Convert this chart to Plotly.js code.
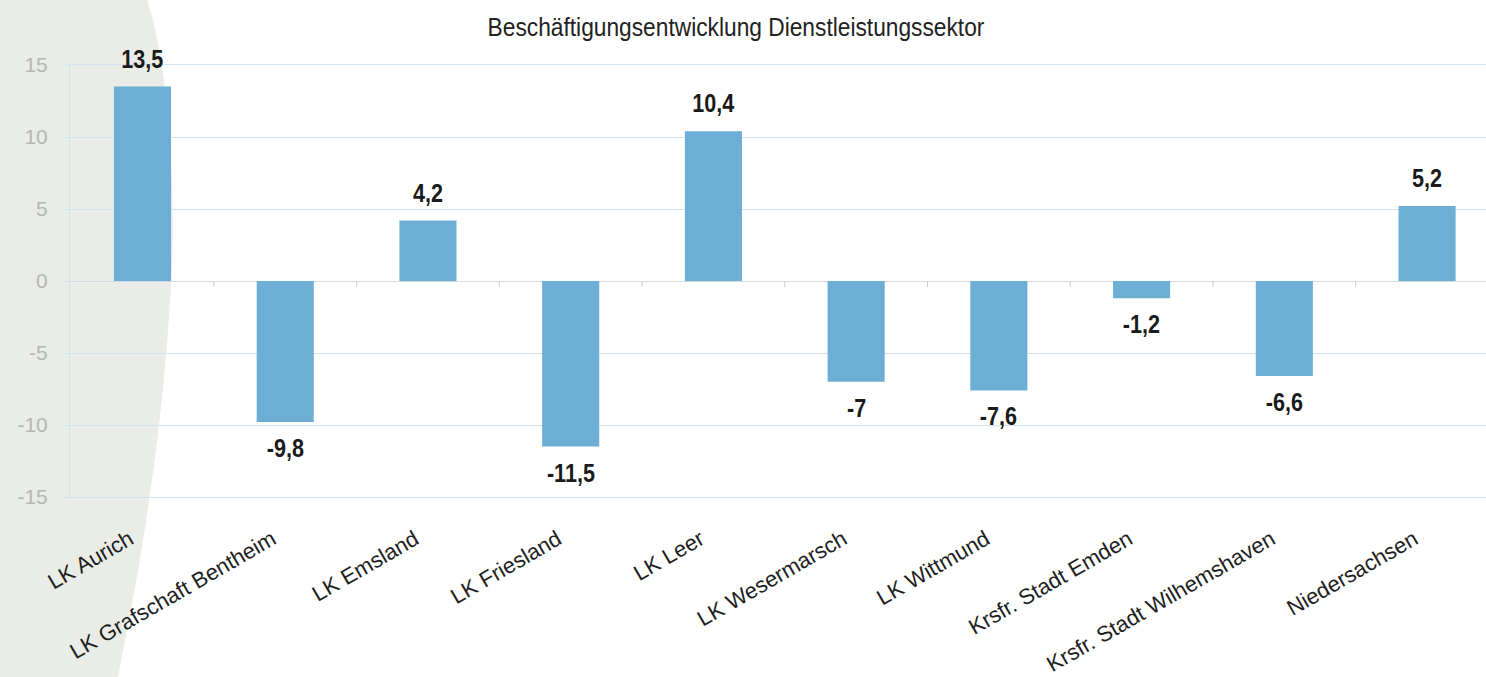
<!DOCTYPE html>
<html>
<head>
<meta charset="utf-8">
<script src="https://cdn.plot.ly/plotly-3.0.1.min.js"></script>
<style>
  html, body { margin: 0; padding: 0; background: #ffffff; }
  #chart { width: 1486px; height: 677px; }
  /* narrow the Arial-metric text to imitate the condensed face of the original */
  #chart .gtitle, #chart .annotation-text {
    transform-box: fill-box;
    transform-origin: center;
  }
  #chart .gtitle { transform: scaleX(0.91); }
  #chart .annotation-text { transform: scaleX(0.83); }
</style>
</head>
<body>
<div id="chart"></div>
<script>
// ---- data ----
const chartTitle = "Beschäftigungsentwicklung Dienstleistungssektor";
const categories = [
  "LK Aurich",
  "LK Grafschaft Bentheim",
  "LK Emsland",
  "LK Friesland",
  "LK Leer",
  "LK Wesermarsch",
  "LK Wittmund",
  "Krsfr. Stadt Emden",
  "Krsfr. Stadt Wilhemshaven",
  "Niedersachsen"
];
const values = [13.5, -9.8, 4.2, -11.5, 10.4, -7, -7.6, -1.2, -6.6, 5.2];
const yTickVals = [-15, -10, -5, 0, 5, 10, 15];
const yTickText = ["-15", "-10", "-5", "0", "5", "10", "15"];

// ---- styling ----
const W = 1486, H = 677;
const M = { l: 70, r: 0, t: 65, b: 180 };
const plotW = W - M.l - M.r, plotH = H - M.t - M.b;
const barColor = "#6daed4";
const gridColor = "#d5e3ef";
const regular = "'Liberation Sans', Arial, Helvetica, sans-serif";

function fmt(v) { return String(v).replace(".", ","); }
function px(x) { return ((x - M.l) / plotW).toFixed(4); }
function py(y) { return ((H - M.b - y) / plotH).toFixed(4); }

// decorative background swoosh on the left (pixel outline -> paper coords)
const swoosh =
  "M " + px(0) + "," + py(0) +
  " L " + px(147) + "," + py(0) +
  " C " + px(168) + "," + py(60) + " " + px(178) + "," + py(200) + " " + px(170) + "," + py(300) +
  " C " + px(164) + "," + py(400) + " " + px(150) + "," + py(520) + " " + px(118) + "," + py(677) +
  " L " + px(0) + "," + py(677) + " Z";

const shapes = [{
  type: "path", xref: "paper", yref: "paper", path: swoosh,
  fillcolor: "#e9ece7", line: { width: 0 }, layer: "below"
}];
// small category-boundary ticks on the zero line
for (let i = 0; i < categories.length - 1; i++) {
  shapes.push({
    type: "line", xref: "x", yref: "y",
    x0: i + 0.5, x1: i + 0.5, y0: 0, y1: -0.42,
    line: { color: "#c9cfd4", width: 1 }, layer: "above"
  });
}

const annotations = values.map((v, i) => ({
  x: categories[i], y: v, xref: "x", yref: "y",
  text: fmt(v), showarrow: false,
  yanchor: "middle", yshift: v >= 0 ? 28 : -26,
  font: { family: regular, size: 26, color: "#1a1a1a", weight: "bold" }
}));

const trace = {
  type: "bar",
  x: categories,
  y: values,
  width: 0.4,
  marker: { color: barColor, line: { width: 0 } },
  hoverinfo: "skip"
};

const layout = {
  width: W, height: H,
  margin: M,
  paper_bgcolor: "#ffffff",
  plot_bgcolor: "rgba(0,0,0,0)",
  showlegend: false,
  title: {
    text: chartTitle,
    xref: "container", x: 736 / W, xanchor: "center",
    yref: "container", y: 1 - 27 / H, yanchor: "middle",
    font: { family: regular, size: 25, color: "#222222" }
  },
  xaxis: {
    type: "category",
    range: [-0.508, 9.413],
    tickangle: -30,
    ticks: "",
    ticklabelstandoff: 20,
    ticklabelshift: -13,
    showgrid: false,
    showline: true, linecolor: gridColor, linewidth: 1, mirror: true,
    zeroline: false,
    tickfont: { family: regular, size: 22, color: "#1e1e1e" }
  },
  yaxis: {
    range: [-15, 15],
    tickvals: yTickVals,
    ticktext: yTickText,
    ticks: "outside", ticklen: 7, tickcolor: gridColor,
    ticklabelstandoff: 10,
    showgrid: true, gridcolor: gridColor, gridwidth: 1,
    zeroline: true, zerolinecolor: "#d3dbe3", zerolinewidth: 1,
    showline: true, linecolor: "#cfe0ee", linewidth: 1,
    tickfont: { family: regular, size: 21, color: "#b4b7b4" }
  },
  shapes: shapes,
  annotations: annotations
};

Plotly.newPlot("chart", [trace], layout, { displayModeBar: false, staticPlot: true });
</script>
</body>
</html>
